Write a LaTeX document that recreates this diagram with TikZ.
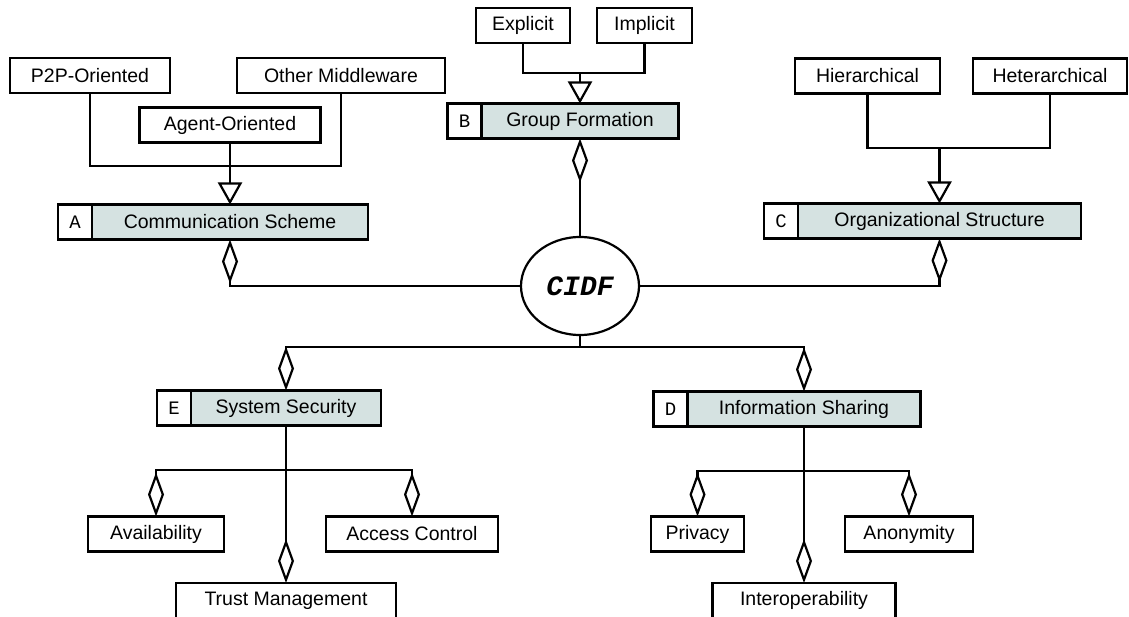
\documentclass[tikz,border=0pt]{standalone}
\usepackage{fontspec}
\setmainfont{Liberation Sans}
\newfontfamily\tagfont{Liberation Mono}
\usetikzlibrary{arrows.meta,positioning,shapes.geometric}
\definecolor{catfill}{RGB}{213,226,225}
\def\lw{2.2pt}
\def\bh{35pt}
\tikzset{leaf box/.style={draw,line width=\lw,fill=white,minimum height=\bh,minimum width=#1,
           inner sep=0pt,outer sep=0pt,font=\fontsize{19.5}{22}\selectfont},
         cat box/.style={leaf box=#1,fill=catfill},
         tag box/.style={draw,line width=\lw,fill=white,minimum height=\bh,minimum width=34pt,
           inner sep=0pt,outer sep=0pt,anchor=east,font=\tagfont\fontsize{19}{22}\selectfont},
         link/.style={line width=\lw},
         part of/.style={link,{Diamond[open,length=44pt,width=16pt]}-},
         kind of/.style={link,-{Triangle[open,length=22pt,width=24pt]}}}

\begin{document}
\begin{tikzpicture}[x=1pt,y=-1pt]
\useasboundingbox (0,0) rectangle (1129,617);
\clip (0,0) rectangle (1129,617);
% centre
\node[draw,ellipse,line width=\lw,minimum width=118pt,minimum height=98pt,inner sep=0pt,
      font=\tagfont\bfseries\itshape\fontsize{28}{30}\selectfont] (cidf) at (580,286) {CIDF};
% categories
\node[cat box=276pt] (A) at (230,222)   {Communication Scheme};
\node[cat box=197pt] (B) at (580,121)   {Group Formation};
\node[cat box=283pt] (C) at (939.5,221) {Organizational Structure};
\node[cat box=233pt] (D) at (804,409)   {Information Sharing};
\node[cat box=190pt] (E) at (286,408)   {System Security};
\foreach \c in {A,B,C,D,E}
  \node[tag box] (tag\c) at (\c.west) {\c};
% leaves
\foreach \n/\x/\y/\w/\t in {p2p/90/75.5/160pt/P2P-Oriented, other/341/75.5/208pt/Other Middleware,
    agent/230/125/181pt/Agent-Oriented, explicit/523/25.5/94pt/Explicit, implicit/644.5/25.5/95pt/Implicit,
    hier/867.5/76/145pt/Hierarchical, heter/1050/76/154pt/Heterarchical,
    avail/156/534/136pt/Availability, access/412/534/172pt/Access Control, trust/286/600.5/220pt/Trust Management,
    privacy/697.5/534/93pt/Privacy, anon/909/534/128pt/Anonymity, interop/804/600.5/183pt/Interoperability}
  \node[leaf box=\w] (\n) at (\x,\y) {\t};
% kinds
\coordinate (busA) at (230,166);
\draw[link] (p2p.south) |- (busA) -| (other.south);
\draw[kind of] (agent.south) -- (A.north);
\coordinate (busB) at (580,73);
\draw[link] (explicit.south) |- (busB) -| (implicit.south);
\draw[kind of] (busB) -- (B.north);
\coordinate (busC) at (939.5,148);
\draw[link] (hier.south) |- (busC) -| (heter.south);
\draw[kind of] (busC) -- (C.north);
% parts of CIDF
\draw[part of] (A.south) |- (cidf.west);
\draw[part of] (C.south) |- (cidf.east);
\draw[part of] (B.south) -- (cidf.north);
\coordinate (busM) at (580,347);
\draw[link] (cidf.south) -- (busM);
\draw[part of] (E.north) |- (busM);
\draw[part of] (D.north) |- (busM);
% parts of E and D
\coordinate (busE) at (286,470);
\draw[link] (E.south) -- (busE);
\foreach \n in {avail,access,trust}
  \draw[part of] (\n.north) |- (busE);
\coordinate (busD) at (804,471);
\draw[link] (D.south) -- (busD);
\foreach \n in {privacy,anon,interop}
  \draw[part of] (\n.north) |- (busD);
\end{tikzpicture}
\end{document}
